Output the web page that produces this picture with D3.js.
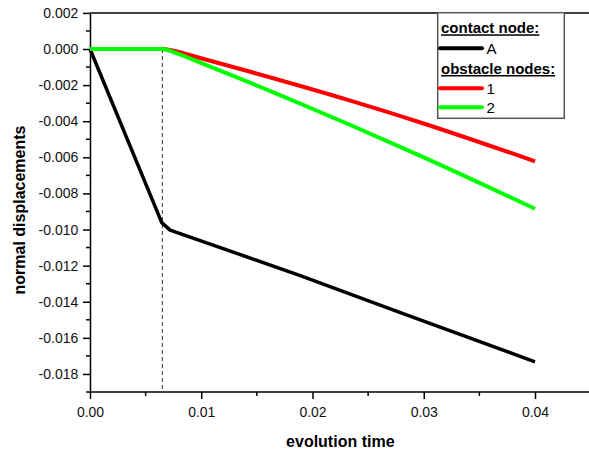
<!DOCTYPE html>
<html>
<head>
<meta charset="utf-8">
<script src="https://cdn.jsdelivr.net/npm/d3@7/dist/d3.min.js"></script>
<style>
  body { margin: 0; background: #fff; }
  svg { display: block; font-family: "Liberation Sans", Arial, sans-serif; }
</style>
</head>
<body>
<svg id="chart"></svg>
<script>
// contact node A
const timeA = [0, 0.00645, 0.0072, 0.0189, 0.0279, 0.04];
const nodeA = [0, -0.00962, -0.01003, -0.01255, -0.0146, -0.01733];

// obstacle nodes 1 and 2
const timeObs = [0, 0.0065, 0.0075, 0.0099, 0.0234, 0.0297, 0.04];
const node1 = [0, 0, -0.0001, -0.0005, -0.00286, -0.00407, -0.00622];
const node2 = [0, 0, -0.00017, -0.00075, -0.00421, -0.00592, -0.00885];

// moment of contact (dashed marker)
const contactTime = 0.0065;

const xTicks = [0, 0.01, 0.02, 0.03, 0.04];
const xMinor = [0.005, 0.015, 0.025, 0.035, 0.045];
const yTicks = [0.002, 0, -0.002, -0.004, -0.006, -0.008, -0.01, -0.012, -0.014, -0.016, -0.018];
const yMinor = [0.001, -0.001, -0.003, -0.005, -0.007, -0.009, -0.011, -0.013, -0.015, -0.017, -0.019];

const series = [
  { name: 'A', t: timeA, v: nodeA, color: '#000000', width: 3.5, curve: d3.curveLinear },
  { name: '1', t: timeObs, v: node1, color: '#ff0000', width: 4, curve: d3.curveMonotoneX },
  { name: '2', t: timeObs, v: node2, color: '#00ff00', width: 4, curve: d3.curveMonotoneX }
];

const W = 589, H = 454;
const plotLeft = 90, plotTop = 12.9, plotBottom = 392;

const svg = d3.select('#chart').attr('width', W).attr('height', H);

const x = d3.scaleLinear().domain([0, 0.045]).range([plotLeft, plotLeft + 0.045 * 11125]);
const y = d3.scaleLinear().domain([-0.019, 0.002]).range([plotBottom, plotTop]);

const fmtY = d => d3.format('.3f')(d).replace('\u2212', '-');

// top frame line
svg.append('line')
    .attr('x1', plotLeft).attr('x2', W + 5)
    .attr('y1', plotTop).attr('y2', plotTop)
    .attr('stroke', '#000').attr('stroke-width', 1.5);

// x axis
const xAxisG = svg.append('g')
    .attr('transform', `translate(0,${plotBottom})`)
    .call(d3.axisBottom(x).tickValues(xTicks).tickFormat(d3.format('.2f')).tickSize(7).tickSizeOuter(0));
xAxisG.append('g').selectAll('line')
    .data(xMinor)
  .join('line')
    .attr('x1', d => x(d)).attr('x2', d => x(d))
    .attr('y1', 0).attr('y2', 4)
    .attr('stroke', '#000').attr('stroke-width', 1.5);
xAxisG.selectAll('.tick text').attr('y', 24.5).attr('dy', 0);

// y axis
const yAxisG = svg.append('g')
    .attr('transform', `translate(${plotLeft},0)`)
    .call(d3.axisLeft(y).tickValues(yTicks).tickFormat(fmtY).tickSize(7).tickPadding(4.7).tickSizeOuter(0));
yAxisG.append('g').selectAll('line')
    .data(yMinor)
  .join('line')
    .attr('y1', d => y(d)).attr('y2', d => y(d))
    .attr('x1', 0).attr('x2', -4)
    .attr('stroke', '#000').attr('stroke-width', 1.5);

[xAxisG, yAxisG].forEach(g => {
  g.select('.domain').attr('stroke-width', 1.5);
  g.selectAll('.tick line').attr('stroke-width', 1.5);
  g.selectAll('.tick text')
      .attr('font-size', 14)
      .attr('font-family', '"Liberation Sans", Arial, sans-serif')
      .attr('fill', '#111');
});
xAxisG.select('.domain').attr('d', `M${plotLeft},0H${W + 5}`);

// axis titles
svg.append('text')
    .attr('x', (plotLeft + x(0.045)) / 2)
    .attr('y', 447)
    .attr('text-anchor', 'middle')
    .attr('font-size', 16)
    .attr('font-weight', 'bold')
    .text('evolution time');

svg.append('text')
    .attr('transform', 'rotate(-90)')
    .attr('x', -210)
    .attr('y', 25)
    .attr('text-anchor', 'middle')
    .attr('font-size', 16)
    .attr('font-weight', 'bold')
    .text('normal displacements');

// dashed contact marker
svg.append('line')
    .attr('x1', x(contactTime)).attr('x2', x(contactTime))
    .attr('y1', y(0)).attr('y2', plotBottom)
    .attr('stroke', '#333')
    .attr('stroke-width', 1)
    .attr('stroke-dasharray', '4,3');

// series lines
svg.append('g').selectAll('path')
    .data(series)
  .join('path')
    .attr('d', s => d3.line().curve(s.curve).x(d => x(d[0])).y(d => y(d[1]))(s.t.map((t, i) => [t, s.v[i]])))
    .attr('fill', 'none')
    .attr('stroke', s => s.color)
    .attr('stroke-width', s => s.width)
    .attr('stroke-linejoin', 'round');

// legend
const lg = svg.append('g');
lg.append('rect')
    .attr('x', 437.7).attr('y', 12.7)
    .attr('width', 126.6).attr('height', 105.6)
    .attr('fill', '#fff')
    .attr('stroke', '#555')
    .attr('stroke-width', 1.5);

const headers = [
  { text: 'contact node:', y: 33.3 },
  { text: 'obstacle nodes:', y: 74 }
];
lg.selectAll('.hdr')
    .data(headers)
  .join('text')
    .attr('class', 'hdr')
    .attr('x', 441)
    .attr('y', d => d.y)
    .attr('font-size', 15)
    .attr('font-weight', 'bold')
    .style('text-decoration', 'underline')
    .text(d => d.text);

const rows = [
  { s: series[0], y: 48.3 },
  { s: series[1], y: 88.3 },
  { s: series[2], y: 107.3 }
];
const rowG = lg.selectAll('.row')
    .data(rows)
  .join('g')
    .attr('class', 'row')
    .attr('transform', d => `translate(0,${d.y})`);
rowG.append('line')
    .attr('x1', 440).attr('x2', 482)
    .attr('stroke', d => d.s.color)
    .attr('stroke-width', 4)
    .attr('stroke-linecap', 'round');
rowG.append('text')
    .attr('x', 486.5)
    .attr('y', 5.7)
    .attr('font-size', 15)
    .text(d => d.s.name);
</script>
</body>
</html>
